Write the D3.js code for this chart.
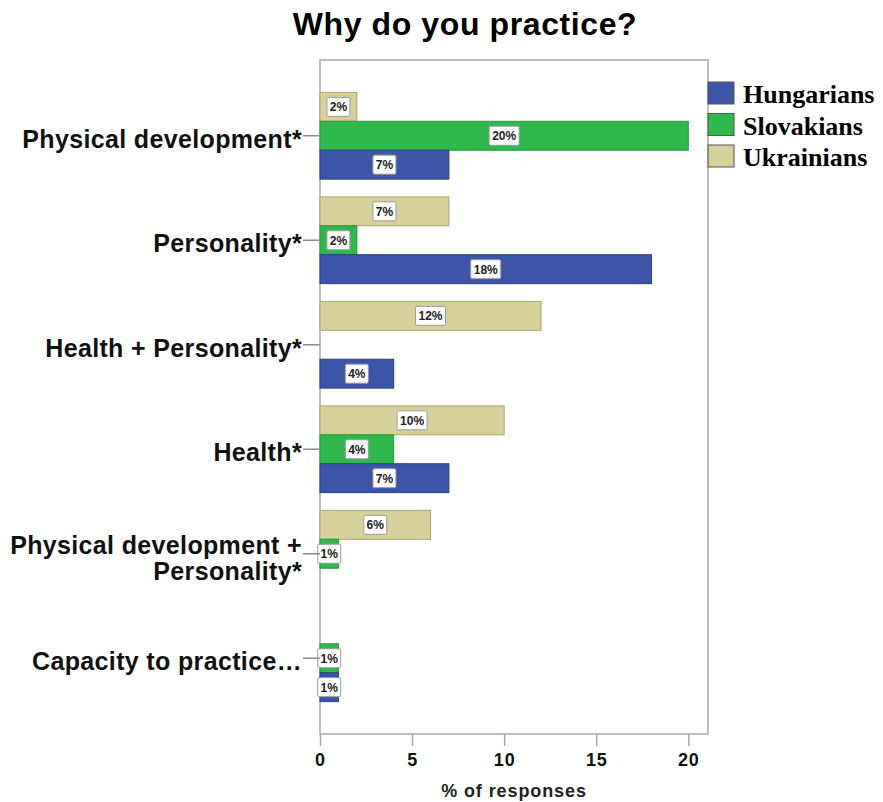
<!DOCTYPE html>
<html>
<head>
<meta charset="utf-8">
<script src="https://cdn.jsdelivr.net/npm/d3@7"></script>
<style>
  body { margin: 0; background: #fff; }
  svg { display: block; }
</style>
</head>
<body>
<div id="chart"></div>
<script>
// chart values
const CATEGORIES = [
  "Physical development*",
  "Personality*",
  "Health + Personality*",
  "Health*",
  "Physical development +\nPersonality*",
  "Capacity to practice…",
];
const SERIES = ["Ukrainians", "Slovakians", "Hungarians"];
const LEGEND_ORDER = ["Hungarians", "Slovakians", "Ukrainians"];
const HUNGARIANS = [7, 18, 4, 7, null, 1];
const SLOVAKIANS = [20, 2, null, 4, 1, 1];
const UKRAINIANS = [2, 7, 12, 10, 6, null];
const X_TICKS = [0, 5, 10, 15, 20];

const WIDTH = 883;
const HEIGHT = 802;
const SANS = "'Liberation Sans', Arial, sans-serif";
const SERIF = "'Liberation Serif', 'Times New Roman', serif";

const COLORS = { Hungarians: "#3d55a8", Slovakians: "#2fb84b", Ukrainians: "#d6d09a" };
const STROKES = { Hungarians: "#2c3f85", Slovakians: "#239a3b", Ukrainians: "#aca46c" };

const plot = { left: 320, right: 708, top: 60, bottom: 734 };

// flatten to one row per bar
const values = { Hungarians: HUNGARIANS, Slovakians: SLOVAKIANS, Ukrainians: UKRAINIANS };
const bars = [];
CATEGORIES.forEach((c, i) => {
  SERIES.forEach(s => {
    if (values[s][i] != null) bars.push({ category: c, series: s, value: values[s][i] });
  });
});

const svg = d3.select("#chart").append("svg")
  .attr("width", WIDTH)
  .attr("height", HEIGHT);

const xScale = d3.scaleLinear().domain([0, 21.07]).range([plot.left, plot.right]);
const yScale = d3.scaleBand()
  .domain(CATEGORIES)
  .range([plot.top, plot.bottom])
  .paddingInner(0.17)
  .paddingOuter(0.31);
const subScale = d3.scaleBand().domain(SERIES).range([0, yScale.bandwidth()]);

// title
svg.append("text")
  .attr("x", 465)
  .attr("y", 35)
  .attr("text-anchor", "middle")
  .attr("font-family", SANS)
  .attr("font-weight", "bold")
  .attr("font-size", 32)
  .attr("letter-spacing", 0.6)
  .text("Why do you practice?");

// frame
svg.append("rect")
  .attr("x", plot.left)
  .attr("y", plot.top)
  .attr("width", plot.right - plot.left)
  .attr("height", plot.bottom - plot.top)
  .attr("fill", "none")
  .attr("stroke", "#a8a8a8")
  .attr("stroke-width", 1.5);

// bars
const barG = svg.append("g").attr("class", "bars");
barG.selectAll("rect")
  .data(bars)
  .join("rect")
  .attr("x", xScale(0))
  .attr("y", d => yScale(d.category) + subScale(d.series))
  .attr("width", d => xScale(d.value) - xScale(0))
  .attr("height", subScale.bandwidth())
  .attr("fill", d => COLORS[d.series])
  .attr("stroke", d => STROKES[d.series])
  .attr("stroke-width", 1);

// value labels in white boxes
const labelG = svg.append("g").attr("class", "labels")
  .selectAll("g")
  .data(bars)
  .join("g")
  .attr("transform", d => `translate(${(xScale(0) + xScale(d.value)) / 2}, ${yScale(d.category) + subScale(d.series) + subScale.bandwidth() / 2})`);
labelG.append("rect")
  .attr("x", d => -(String(d.value).length * 7 + 17) / 2 + 0.5)
  .attr("y", -9.5)
  .attr("width", d => String(d.value).length * 7 + 16)
  .attr("height", 19)
  .attr("rx", 1.5)
  .attr("fill", "#fff")
  .attr("stroke", "#9a9a9a")
  .attr("stroke-width", 1);
labelG.append("text")
  .attr("text-anchor", "middle")
  .attr("y", 4.5)
  .attr("font-family", SANS)
  .attr("font-weight", "bold")
  .attr("font-size", 12)
  .attr("fill", "#222")
  .text(d => d.value + "%");

// x axis
const xAxis = svg.append("g")
  .attr("transform", `translate(0, ${plot.bottom})`)
  .call(d3.axisBottom(xScale).tickValues(X_TICKS).tickSize(12).tickPadding(7).tickSizeOuter(0));
xAxis.select(".domain").remove();
xAxis.selectAll(".tick line").attr("stroke", "#a8a8a8").attr("stroke-width", 1.5);
xAxis.selectAll(".tick text")
  .attr("font-family", SANS)
  .attr("font-weight", "bold")
  .attr("font-size", 18)
  .attr("letter-spacing", 0.8)
  .attr("fill", "#111");

svg.append("text")
  .attr("x", (plot.left + plot.right) / 2)
  .attr("y", 797)
  .attr("text-anchor", "middle")
  .attr("font-family", SANS)
  .attr("font-weight", "bold")
  .attr("font-size", 18)
  .attr("letter-spacing", 0.9)
  .attr("fill", "#222")
  .text("% of responses");

// category ticks and labels
const catG = svg.append("g").attr("class", "categories")
  .selectAll("g")
  .data(CATEGORIES)
  .join("g")
  .attr("transform", d => `translate(0, ${yScale(d) + yScale.bandwidth() / 2})`);
catG.append("line")
  .attr("x1", 303)
  .attr("x2", plot.left)
  .attr("stroke", "#8a8a8a")
  .attr("stroke-width", 1.5);
catG.append("text")
  .attr("text-anchor", "end")
  .attr("font-family", SANS)
  .attr("font-weight", "bold")
  .attr("font-size", 25)
  .attr("letter-spacing", 0.35)
  .attr("fill", "#111")
  .each(function (d) {
    const lines = d.split("\n");
    const t = d3.select(this);
    lines.forEach((line, i) => {
      t.append("tspan")
        .attr("x", 302)
        .attr("y", lines.length > 1 ? i * 26 : 12)
        .text(line);
    });
  });

// legend
const legend = svg.append("g").attr("class", "legend")
  .selectAll("g")
  .data(LEGEND_ORDER)
  .join("g")
  .attr("transform", (d, i) => `translate(708, ${82 + i * 31.5})`);
legend.append("rect")
  .attr("width", 26)
  .attr("height", 22)
  .attr("fill", d => COLORS[d])
  .attr("stroke", "#555")
  .attr("stroke-width", 1);
legend.append("text")
  .attr("x", 35)
  .attr("y", 21)
  .attr("font-family", SERIF)
  .attr("font-weight", "bold")
  .attr("font-size", 26)
  .attr("fill", "#000")
  .text(d => d);
</script>
</body>
</html>
